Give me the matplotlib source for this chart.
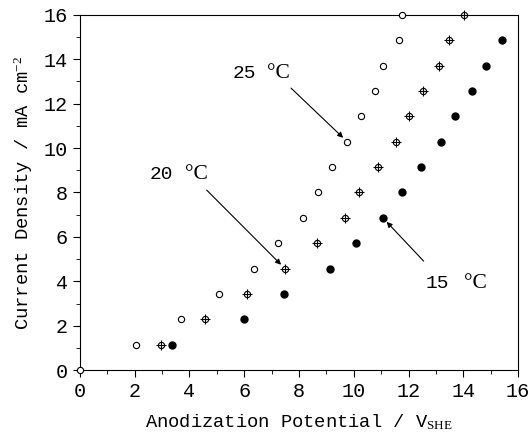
import matplotlib
matplotlib.use('Agg')
import matplotlib.pyplot as plt
from matplotlib.ticker import MultipleLocator

plt.rcParams['font.family'] = ['Liberation Mono', 'DejaVu Sans']
plt.rcParams['mathtext.fontset'] = 'custom'
plt.rcParams['mathtext.rm'] = 'Liberation Serif'
plt.rcParams['mathtext.it'] = 'Liberation Serif:italic'

# current density levels (mA cm^-2)
j_25 = [0, 1.14, 2.29, 3.43, 4.57, 5.71, 6.86, 8.0, 9.14, 10.29, 11.43, 12.57, 13.71, 14.86, 16.0]
j_20 = [1.14, 2.29, 3.43, 4.57, 5.71, 6.86, 8.0, 9.14, 10.29, 11.43, 12.57, 13.71, 14.86, 16.0]
j_15 = [1.14, 2.29, 3.43, 4.57, 5.71, 6.86, 8.0, 9.14, 10.29, 11.43, 12.57, 13.71, 14.86]

# anodization potential (V_SHE)
v_25 = [0, 2.05, 3.70, 5.08, 6.36, 7.22, 8.16, 8.69, 9.22, 9.76, 10.27, 10.78, 11.07, 11.64, 11.77]
v_20 = [2.95, 4.56, 6.10, 7.49, 8.64, 9.67, 10.20, 10.88, 11.54, 12.03, 12.52, 13.10, 13.47, 14.02]
v_15 = [3.36, 6.01, 7.44, 9.13, 10.08, 11.06, 11.77, 12.45, 13.19, 13.71, 14.33, 14.83, 15.40]

# temperature labels: text, label anchor, arrow start, arrow target
temps = ['25', '20', '15']
label_xy = [(5.56, 13.14), (2.56, 8.63), (12.63, 3.72)]
deg_x = [6.84, 3.85, 14.02]
arrow_from = [(7.71, 12.70), (4.63, 8.11), (12.55, 4.91)]
arrow_to = [(v_25[9], j_25[9]), (v_20[3], j_20[3]), (v_15[5], j_15[5])]

fig = plt.figure(figsize=(5.32, 4.36), dpi=100)
ax = fig.add_axes([0.150, 0.151, 0.824, 0.815])

ax.plot(v_25, j_25, 'o', ms=4.5, mfc='white', mec='black', mew=0.8, clip_on=False, zorder=3)
ax.plot(v_20, j_20, 'o', ms=4.5, mfc='white', mec='black', mew=0.8, clip_on=False, zorder=3)
ax.plot(v_20, j_20, '+', ms=6.5, mec='black', mew=0.8, clip_on=False, zorder=4)
ax.plot(v_15, j_15, 'o', ms=5, mfc='black', mec='black', clip_on=False, zorder=3)

ax.set_xlim(0, 16)
ax.set_ylim(0, 16)
ax.xaxis.set_major_locator(MultipleLocator(2))
ax.xaxis.set_minor_locator(MultipleLocator(1))
ax.yaxis.set_major_locator(MultipleLocator(2))
ax.yaxis.set_minor_locator(MultipleLocator(1))
ax.tick_params(which='both', direction='out', top=False, right=False, labelsize=14.5)
ax.tick_params(which='major', length=5)
ax.tick_params(which='minor', length=3)

ax.set_xlabel('Anodization Potential / V$_{\\mathrm{SHE}}$', fontsize=13.5, labelpad=8)
ax.set_ylabel('Current Density / mA cm$^{-2}$', fontsize=13.5, labelpad=6)

arrow = dict(arrowstyle='-|>', color='black', lw=0.8, mutation_scale=8, shrinkA=0, shrinkB=4)
for t, (lx, ly), dx, a0, a1 in zip(temps, label_xy, deg_x, arrow_from, arrow_to):
    ax.text(lx, ly, t, ha='left', va='baseline', fontsize=14)
    ax.text(dx, ly, '°C', ha='left', va='baseline', fontsize=15.5, family='Liberation Serif')
    ax.annotate('', xy=a1, xytext=a0, arrowprops=arrow)

fig.savefig('out.png', dpi=100)
